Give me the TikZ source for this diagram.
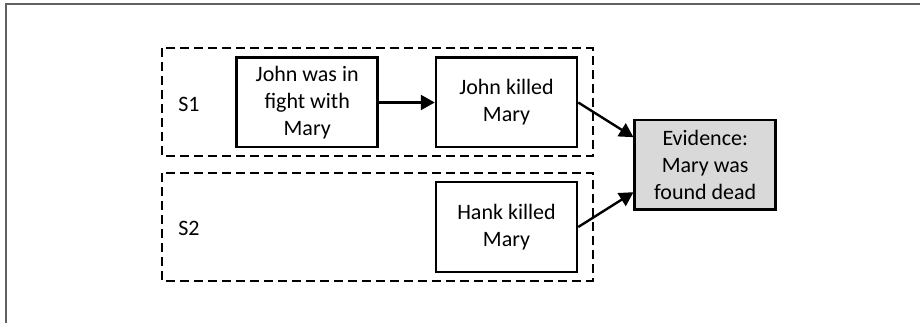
\documentclass[tikz,border=0pt]{standalone}
\usepackage{fontspec}
\setmainfont{Carlito}
\usetikzlibrary{arrows.meta,calc}

\tikzset{
  event/.style={draw=black, line width=2.5pt, fill=white, minimum width=141pt,
    minimum height=89.5pt, inner sep=0pt, align=center,
    font=\fontsize{22pt}{27pt}\selectfont},
  evidence/.style={event, fill=black!15},
  scenario/.style={draw=black, line width=1.7pt, dash pattern=on 9pt off 5pt},
  label/.style={inner sep=0pt, font=\fontsize{22pt}{27pt}\selectfont},
  link/.style={line width=2.4pt, -{Triangle[length=14pt,width=15pt]}},
  frame/.style={draw=black!62, line width=1.8pt}
}

\begin{document}
\begin{tikzpicture}[x=1pt, y=-1pt]
  \useasboundingbox (0,0) rectangle (920,323);

  % page frame
  \draw[frame] (6.3,330) -- (6.3,4) -- (930,4);

  % scenario groupings
  \draw[scenario] (161.7,48.3) rectangle (592.7,156);
  \draw[scenario] (161.7,173.3) rectangle (592.7,280.7);
  \node[label] (s1) at (189,104) {S1};
  \node[label] (s2) at (189,228) {S2};

  % events
  \node[event] (fight) at (307.2,102.5) {John was in\\fight with\\Mary};
  \node[event] (john) at (506.5,102.5) {John killed\\Mary};
  \node[event] (hank) at (506.5,227) {Hank killed\\Mary};
  \node[evidence] (ev) at (705.2,164.7) {Evidence:\\Mary was\\found dead};

  % explanatory links
  \draw[link] (fight.east) -- (john.west);
  \draw[link] (john.east) -- ($(ev.west)+(0,-27.5)$);
  \draw[link] (hank.east) -- ($(ev.west)+(0,27.5)$);
\end{tikzpicture}
\end{document}
